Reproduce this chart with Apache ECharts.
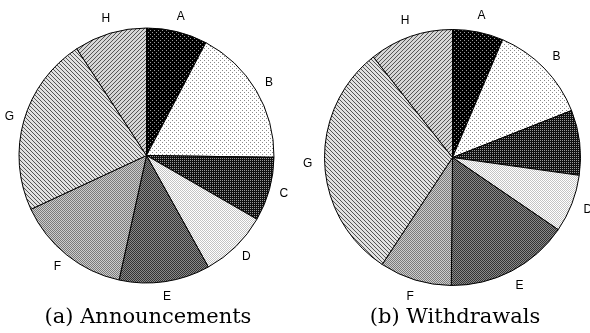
<!DOCTYPE html>
<html>
<head>
<meta charset="utf-8">
<script src="https://cdn.jsdelivr.net/npm/echarts@6/dist/echarts.min.js"></script>
<style>
html,body{margin:0;padding:0;background:#fff;}
#main{width:590px;height:333px;}
</style>
</head>
<body>
<div id="main"></div>
<script>
// ---- data ----
var categories = ['A', 'B', 'C', 'D', 'E', 'F', 'G', 'H'];
var announcements = [7.7, 17.5, 8.1, 8.6, 11.5, 14.6, 22.7, 9.2];
var withdrawals = [6.4, 12.6, 8.2, 7.3, 15.6, 9.1, 30.1, 10.6];
var captions = ['(a) Announcements', '(b) Withdrawals'];

// ---- patterns (pixel textures) ----
function tile(fn) {
  var c = document.createElement('canvas');
  c.width = 4; c.height = 4;
  var ctx = c.getContext('2d');
  for (var y = 0; y < 4; y++) {
    for (var x = 0; x < 4; x++) {
      ctx.fillStyle = fn(x, y);
      ctx.fillRect(x, y, 1, 1);
    }
  }
  return { image: c, repeat: 'repeat' };
}
var patterns = [
  tile(function (x, y) { return ((x === 0 && y === 0) || (x === 2 && y === 2)) ? '#9a9a9a' : '#000000'; }),
  tile(function (x, y) { return ((x === 0 && y === 0) || (x === 2 && y === 2)) ? '#8a8a8a' : '#ffffff'; }),
  tile(function (x, y) { return (x % 2 === 0 && y % 2 === 0) ? '#999999' : '#101010'; }),
  tile(function (x, y) { return ((x + y) % 2 === 0) ? '#c4c4c4' : '#ffffff'; }),
  tile(function (x, y) { return ((x + y) % 2 === 0) ? '#333333' : '#8a8a8a'; }),
  tile(function (x, y) { return ((x + y) % 2 === 0) ? '#7a7a7a' : '#cdcdcd'; }),
  tile(function (x, y) { return ((x - y + 8) % 4 === 0) ? '#555555' : '#e2e2e2'; }),
  tile(function (x, y) { return ((x + y) % 4 === 0) ? '#555555' : '#d6d6d6'; })
];

function pieData(vals) {
  return categories.map(function (n, i) {
    return { name: n, value: vals[i], itemStyle: { color: patterns[i] } };
  });
}
function labelData(vals) {
  return categories.map(function (n, i) { return { name: n, value: vals[i] }; });
}

var chart = echarts.init(document.getElementById('main'), null, { renderer: 'canvas' });

function pieSeries(center, r, ring, vals) {
  return [{
    type: 'pie',
    center: center,
    radius: [0, r],
    startAngle: 90,
    clockwise: true,
    silent: true,
    animation: false,
    label: { show: false },
    labelLine: { show: false },
    itemStyle: { borderColor: '#000', borderWidth: 1 },
    data: pieData(vals)
  }, {
    type: 'pie',
    center: center,
    radius: [r, r + ring],
    startAngle: 90,
    clockwise: true,
    silent: true,
    animation: false,
    minShowLabelAngle: 0,
    itemStyle: { color: 'rgba(0,0,0,0)', borderWidth: 0 },
    label: {
      show: true, position: 'inside', rotate: 0,
      formatter: '{b}', color: '#000',
      fontFamily: 'Liberation Sans, Arial, sans-serif', fontSize: 12
    },
    labelLine: { show: false },
    data: labelData(vals)
  }];
}

var captionFont = '21px "DejaVu Serif", serif';
var option = {
  backgroundColor: '#ffffff',
  animation: false,
  series: [].concat(
    pieSeries([146.5, 155.5], 127.5, 24, announcements),
    pieSeries([452.5, 157.5], 128, 28, withdrawals)
  ),
  graphic: [
    { type: 'text', style: { text: captions[0], font: captionFont, fill: '#000', textAlign: 'center', textVerticalAlign: 'middle', x: 148, y: 318 } },
    { type: 'text', style: { text: captions[1], font: captionFont, fill: '#000', textAlign: 'center', textVerticalAlign: 'middle', x: 455, y: 318 } }
  ]
};
chart.setOption(option);
</script>
</body>
</html>
